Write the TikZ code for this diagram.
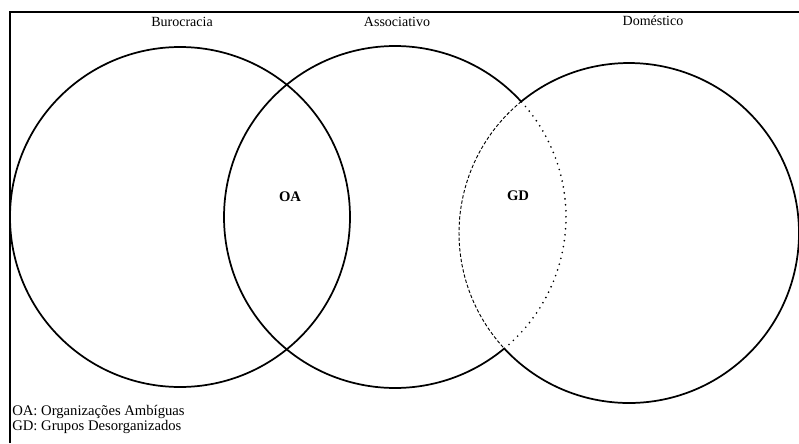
\documentclass[tikz,border=0pt]{standalone}
\usepackage{fontspec}
\setmainfont{Liberation Serif}
\begin{document}
\begin{tikzpicture}[x=0.75pt,y=-0.75pt,
  circ/.style={line width=1.3pt},
  dotarc/.style={line width=1.4pt,line cap=round,dash pattern=on 0pt off 4.5pt},
  dasharc/.style={line width=0.7pt,dash pattern=on 2.5pt off 1.5pt},
  head/.style={font=\fontsize{10.5pt}{12pt}\selectfont},
  lbl/.style={font=\fontsize{11pt}{13pt}\selectfont\bfseries},
  leg/.style={font=\fontsize{11pt}{13pt}\selectfont,anchor=west,inner sep=0pt}]
\useasboundingbox (0,0) rectangle (799,443);
% frame
\draw[line width=1.3pt] (10,443) -- (10,12) -- (799,12);
% centres
\coordinate (c1) at (180,217);
\coordinate (c2) at (395,217);
\coordinate (c3) at (629,233);
% circles
\draw[circ] (c1) circle[radius=127.5pt];
\draw[circ] ([shift={(42.5:128.25pt)}]c2) arc[start angle=42.5,end angle=309.8,radius=128.25pt];
\draw[dotarc] ([shift={(-50.2:128.25pt)}]c2) arc[start angle=-50.2,end angle=42.5,radius=128.25pt];
\draw[circ] ([shift={(222.8:127.5pt)}]c3) arc[start angle=222.8,end angle=489.4,radius=127.5pt];
\draw[dasharc] ([shift={(129.4:127.5pt)}]c3) arc[start angle=129.4,end angle=222.8,radius=127.5pt];
% headers
\node[head] (hb) at (182,22) {Burocracia};
\node[head] (ha) at (397,22) {Associativo};
\node[head] (hd) at (653,21) {Doméstico};
% region labels
\node[lbl] (oa) at (290,197) {OA};
\node[lbl] (gd) at (518,196) {GD};
% legend
\node[leg] (l1) at (12,412) {OA: Organizações Ambíguas};
\node[leg] (l2) at (12,427) {GD: Grupos Desorganizados};
\end{tikzpicture}
\end{document}
